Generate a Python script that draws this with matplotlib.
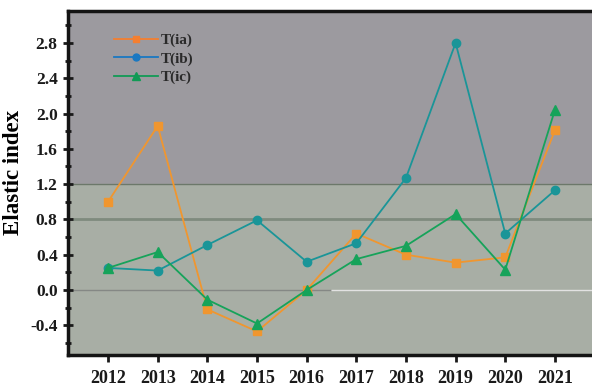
import matplotlib.pyplot as plt
from matplotlib.lines import Line2D

years = [2012, 2013, 2014, 2015, 2016, 2017, 2018, 2019, 2020, 2021]
t_ia = [1.00, 1.86, -0.22, -0.47, 0.00, 0.64, 0.40, 0.31, 0.37, 1.81]
t_ib = [0.25, 0.22, 0.51, 0.79, 0.32, 0.53, 1.27, 2.80, 0.64, 1.13]
t_ic = [0.25, 0.43, -0.11, -0.38, 0.00, 0.35, 0.50, 0.86, 0.23, 2.04]

plt.rcParams['font.family'] = ['Liberation Serif', 'DejaVu Serif']
plt.rcParams['font.weight'] = 'bold'

fig = plt.figure(figsize=(5.92, 3.87), dpi=100)
ax = fig.add_axes([0.115, 0.0827, 0.902, 0.889])

ymin, ymax = -0.737, 3.163
xmin, xmax = 2011.195, 2021.95
ax.set_xlim(xmin, xmax)
ax.set_ylim(ymin, ymax)

# two background zones split at 1.2
ax.axhspan(1.2, ymax, color='#9c9a9f', zorder=0)
ax.axhspan(ymin, 1.2, color='#a8aea5', zorder=0)
ax.axhline(1.2, color='#6c786a', lw=1.0, zorder=1)
ax.axhline(0.8, color='#7f8b7e', lw=2.0, zorder=1)
ax.hlines(0.0, xmin, 2016.5, color='#858885', lw=1.0, zorder=1)
ax.hlines(0.0, 2016.5, xmax, color='#e2e2e2', lw=1.0, zorder=1)

ax.plot(years, t_ia, color='#f0962f', lw=1.3, marker='s', ms=5.5, zorder=3)
ax.plot(years, t_ib, color='#1a9598', lw=1.3, marker='o', ms=6, zorder=3)
ax.plot(years, t_ic, color='#16a35a', lw=1.3, marker='^', ms=6.5, zorder=4)

handles = [
    Line2D([], [], color='#f47f30', lw=1.3, marker='s', ms=5),
    Line2D([], [], color='#1a78c2', lw=1.3, marker='o', ms=5),
    Line2D([], [], color='#119a55', lw=1.3, marker='^', ms=6),
]
leg = ax.legend(handles, ['T(ia)', 'T(ib)', 'T(ic)'], loc='upper left',
                bbox_to_anchor=(0.06, 0.975), frameon=False, fontsize=11,
                handlelength=2.9, handletextpad=0.2, labelspacing=0.3)
for t in leg.get_texts():
    t.set_color('#2a2a2a')

ax.set_xticks(years)
ax.set_xticklabels([str(y) for y in years], fontsize=13)
ax.set_yticks([-0.4, 0.0, 0.4, 0.8, 1.2, 1.6, 2.0, 2.4, 2.8])
ax.set_yticklabels(['-0.4', '0.0', '0.4', '0.8', '1.2', '1.6', '2.0', '2.4', '2.8'],
                   fontsize=12.5)
ax.set_yticks([-0.6, -0.2, 0.2, 0.6, 1.0, 1.4, 1.8, 2.2, 2.6, 3.0], minor=True)
ax.tick_params(axis='y', which='major', direction='inout', length=7, width=2,
               pad=4, colors='#1a1a1a')
ax.tick_params(axis='y', which='minor', direction='inout', length=4, width=2,
               colors='#1a1a1a')
ax.tick_params(axis='x', direction='out', length=5, width=2, pad=6,
               colors='#1a1a1a')

for side in ['left', 'bottom', 'top', 'right']:
    ax.spines[side].set_linewidth(2.5)
    ax.spines[side].set_color('#141414')

ax.set_ylabel('Elastic index', fontsize=16.5, fontweight='bold')
ax.yaxis.set_label_coords(-0.082, 0.53)

fig.savefig('out.png', dpi=100)
